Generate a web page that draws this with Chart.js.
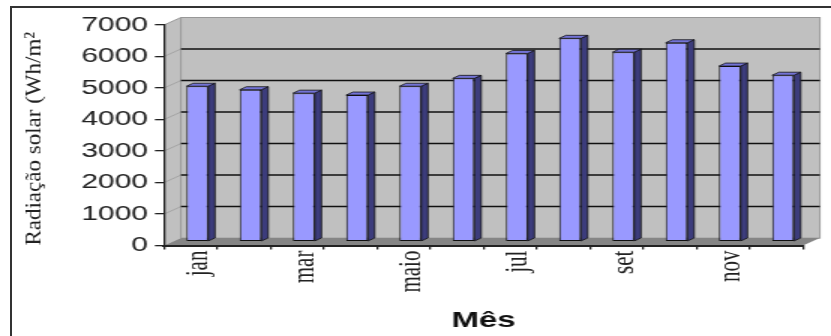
<!DOCTYPE html>
<html>
<head>
<meta charset="utf-8">
<script src="https://cdn.jsdelivr.net/npm/chart.js"></script>
<style>
  html, body { margin: 0; background: #fff; width: 831px; height: 336px; overflow: hidden; }
  body { position: relative; }
  #moldura { position: absolute; left: 10px; top: 6px; width: 821px; height: 330px; border-top: 2px solid #333; border-left: 2px solid #333; box-sizing: border-box; }
  /* the reference is stretched sideways, so the canvas is too */
  #caixa { position: absolute; left: 0; top: 0; width: 554px; height: 336px; transform: scaleX(1.5); transform-origin: 0 0; }
</style>
</head>
<body>
<div id="moldura"></div>
<div id="caixa"><canvas id="grafico" width="554" height="336"></canvas></div>
<script>
const meses = ['jan', 'fev', 'mar', 'abr', 'maio', 'jun', 'jul', 'ago', 'set', 'out', 'nov', 'dez'];
const radiacao = [4930, 4820, 4710, 4650, 4930, 5180, 5970, 6450, 6010, 6310, 5570, 5280];
const ticksY = [0, 1000, 2000, 3000, 4000, 5000, 6000, 7000];
const tituloY = 'Radiação solar (Wh/m²';
const tituloX = 'Mês';

// profundidade do "3D"
const DX = 11.3, DY = 7.5;   // paredes
const BX = 4.5, BY = -4;     // deslocamento das barras
const PX = 4.5, PY = 3;      // lado/topo das barras

const paredes = {
    id: 'paredes',
    beforeDraw(chart) {
        const ctx = chart.ctx;
        const a = chart.chartArea;
        const y = chart.scales.y;
        ctx.save();
        ctx.fillStyle = '#c0c0c0';
        ctx.beginPath();
        ctx.moveTo(a.left, a.top);
        ctx.lineTo(a.left + DX, a.top - DY);
        ctx.lineTo(a.left + DX, a.bottom - DY);
        ctx.lineTo(a.left, a.bottom);
        ctx.closePath();
        ctx.fill();
        ctx.fillRect(a.left + DX, a.top - DY, a.right - a.left, a.bottom - a.top);
        ctx.strokeStyle = '#989898';
        ctx.lineWidth = 1;
        ctx.strokeRect(a.left + DX, a.top - DY, a.right - a.left, a.bottom - a.top);
        ctx.beginPath();
        ctx.moveTo(a.left, a.top);
        ctx.lineTo(a.left + DX, a.top - DY);
        ctx.stroke();

        // chao
        ctx.fillStyle = '#858585';
        ctx.beginPath();
        ctx.moveTo(a.left, a.bottom);
        ctx.lineTo(a.left + DX, a.bottom - DY);
        ctx.lineTo(a.right + DX, a.bottom - DY);
        ctx.lineTo(a.right, a.bottom);
        ctx.closePath();
        ctx.fill();

        ticksY.forEach(v => {
            if (v === ticksY[0] || v === ticksY[ticksY.length - 1]) return;
            const py = y.getPixelForValue(v);
            ctx.strokeStyle = '#a4a4a4';
            ctx.lineWidth = 1;
            ctx.beginPath();
            ctx.moveTo(a.left, py);
            ctx.lineTo(a.left + DX, py - DY);
            ctx.stroke();
            ctx.strokeStyle = '#111';
            ctx.lineWidth = 1.5;
            ctx.beginPath();
            ctx.moveTo(a.left + DX, py - DY);
            ctx.lineTo(a.right + DX, py - DY);
            ctx.stroke();
        });
        ctx.restore();
    }
};

const barras3d = {
    id: 'barras3d',
    beforeDatasetsDraw(chart) {
        chart.ctx.save();
        chart.ctx.translate(BX, BY);
    },
    afterDatasetsDraw(chart) {
        const ctx = chart.ctx;
        chart.getDatasetMeta(0).data.forEach(el => {
            const { x, y, base, width } = el.getProps(['x', 'y', 'base', 'width'], true);
            const l = x - width / 2, r = x + width / 2;
            ctx.lineWidth = 0.8;
            ctx.strokeStyle = '#111';
            ctx.fillStyle = '#3c3c7c';
            ctx.beginPath();
            ctx.moveTo(r, y);
            ctx.lineTo(r + PX, y - PY);
            ctx.lineTo(r + PX, base - PY);
            ctx.lineTo(r, base);
            ctx.closePath();
            ctx.fill();
            ctx.stroke();
            ctx.fillStyle = '#7373d6';
            ctx.beginPath();
            ctx.moveTo(l, y);
            ctx.lineTo(l + PX, y - PY);
            ctx.lineTo(r + PX, y - PY);
            ctx.lineTo(r, y);
            ctx.closePath();
            ctx.fill();
            ctx.stroke();
        });
        ctx.restore();
    }
};

const tituloEixoY = {
    id: 'tituloEixoY',
    afterDraw(chart) {
        const ctx = chart.ctx;
        ctx.save();
        ctx.translate(26.7, chart.chartArea.bottom);
        ctx.rotate(-Math.PI / 2);
        ctx.scale(1, 0.66);
        ctx.font = '23px "Liberation Serif"';
        ctx.fillStyle = '#222';
        ctx.textAlign = 'left';
        ctx.textBaseline = 'alphabetic';
        ctx.fillText(tituloY, 0, 0);
        ctx.restore();
    }
};

new Chart(document.getElementById('grafico'), {
    type: 'bar',
    data: {
        labels: meses,
        datasets: [{
            label: 'Radiação solar',
            data: radiacao,
            backgroundColor: '#9999ff',
            borderColor: '#111',
            borderWidth: 1,
            borderSkipped: false,
            barPercentage: 0.41,
            categoryPercentage: 1
        }]
    },
    options: {
        responsive: false,
        animation: false,
        layout: { padding: { left: 54, right: 18.7, top: 25, bottom: 2 } },
        plugins: { legend: { display: false }, tooltip: { enabled: false } },
        scales: {
            x: {
                grid: { drawOnChartArea: false, tickLength: 4, color: '#222', lineWidth: 1.3 },
                border: { color: '#222', width: 2 },
                ticks: {
                    autoSkip: false,
                    minRotation: 90,
                    maxRotation: 90,
                    padding: 1,
                    labelOffset: 5,
                    color: '#222',
                    font: { family: 'Liberation Serif', size: 21 },
                    callback: (v, i) => i % 2 === 0 ? meses[i] : ''
                },
                title: {
                    display: true,
                    text: tituloX,
                    color: '#111',
                    font: { family: 'Liberation Sans', size: 22, weight: 'bold' },
                    padding: { top: 14, bottom: 0 }
                }
            },
            y: {
                min: ticksY[0],
                max: ticksY[ticksY.length - 1],
                afterBuildTicks: s => { s.ticks = ticksY.map(v => ({ value: v })); },
                afterFit: s => { s.width = 55.3; },
                grid: { drawOnChartArea: false, tickLength: 6, color: '#222', lineWidth: 1.3 },
                border: { color: '#222', width: 1.3 },
                ticks: {
                    padding: 4.6,
                    color: '#222',
                    font: { family: 'Liberation Sans', size: 20 },
                    callback: v => String(v)
                }
            }
        }
    },
    plugins: [paredes, barras3d, tituloEixoY]
});
</script>
</body>
</html>
